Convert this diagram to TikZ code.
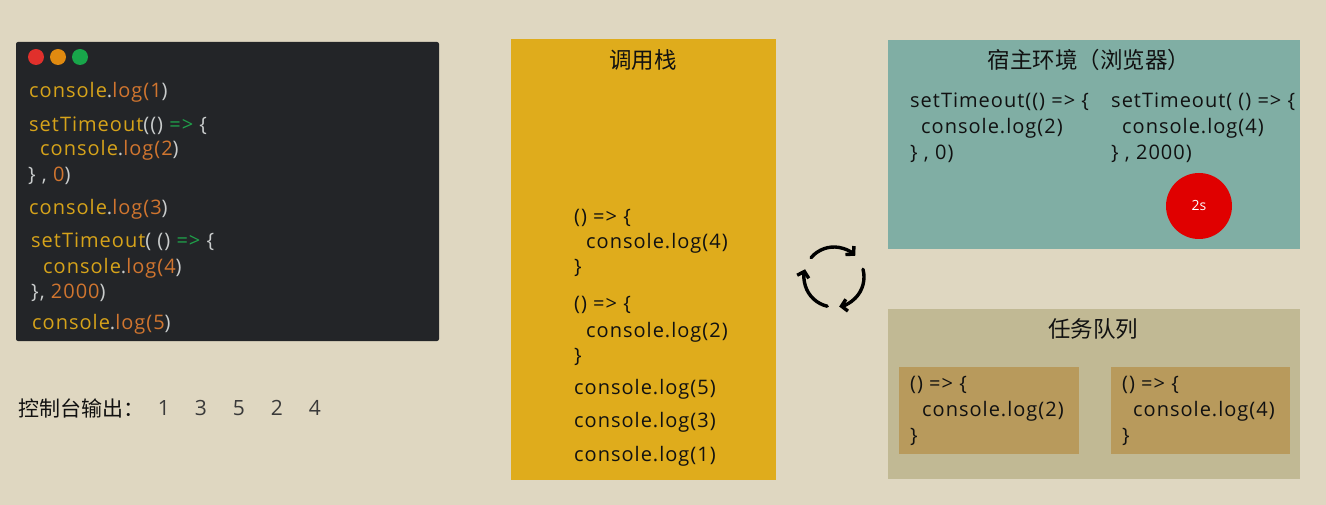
\documentclass[tikz,border=0pt]{standalone}
\usepackage{fontspec}
\setmainfont{Open Sans}
\newfontfamily\codefont[LetterSpace=5]{Open Sans}
\newfontfamily\cjk{Noto Sans CJK SC}
\usepackage{xcolor}
\usepackage{tikz}
\usetikzlibrary{arrows.meta}

\definecolor{bgtan}{HTML}{DFD7C1}
\definecolor{editor}{HTML}{232528}
\definecolor{stackgold}{HTML}{DFAC1C}
\definecolor{hostteal}{HTML}{80AEA4}
\definecolor{queuetan}{HTML}{C1B994}
\definecolor{queueitem}{HTML}{B89A5C}
\definecolor{timerred}{HTML}{E00000}
\definecolor{dotred}{HTML}{E0302C}
\definecolor{dotorange}{HTML}{E08A10}
\definecolor{dotgreen}{HTML}{18A64A}
\definecolor{cyellow}{HTML}{D6A31A}
\definecolor{corange}{HTML}{D0752F}
\definecolor{cwhite}{HTML}{C9CCCC}
\definecolor{cgreen}{HTML}{1FA14A}
\definecolor{ink}{HTML}{111111}
\definecolor{outink}{HTML}{3A3A3A}

\newcommand{\cy}[1]{\textcolor{cyellow}{#1}}
\newcommand{\co}[1]{\textcolor{corange}{#1}}
\newcommand{\cw}[1]{\textcolor{cwhite}{#1}}
\newcommand{\cgr}[1]{\textcolor{cgreen}{#1}}

\begin{document}
\begin{tikzpicture}[x=1pt,y=-1pt,
    code/.style={anchor=west, inner sep=0pt, font=\codefont\fontsize{20}{24}\selectfont, text=ink},
    title/.style={inner sep=0pt, font=\cjk\fontsize{22.5}{26}\selectfont, text=ink},
    cycle/.style={line width=3.4pt, line cap=round, -{Straight Barb[length=5.5pt, width=12pt]}}]
    % Draw background
    \fill[bgtan] (0,0) rectangle (1326,505);
    \useasboundingbox (0,0) rectangle (1326,505);

    % Draw editor window
    \fill[editor, rounded corners=2pt] (16,42) rectangle (439,341);
    \foreach \x/\c in {36/dotred, 58/dotorange, 80/dotgreen} {
        \fill[\c] (\x,57) circle (8);
    }
    \node[code] (src1) at (29,92) {\cy{console}\cw{.}\co{log(1}\cw{)}};
    \node[code] (src2) at (29,126) {\cy{setTimeout}\cw{(()}\ \cgr{=>}\ \cw{\{}};
    \node[code] (src3) at (40,150) {\cy{console}\cw{.}\co{log(2}\cw{)}};
    \node[code] (src4) at (28,176) {\cw{\} ,}\ \co{0}\cw{)}};
    \node[code] (src5) at (29,209) {\cy{console}\cw{.}\co{log(3}\cw{)}};
    \node[code] (src6) at (31,242) {\cy{setTimeout}\cw{( ()}\ \cgr{=>}\ \cw{\{}};
    \node[code] (src7) at (43,268) {\cy{console}\cw{.}\co{log(4}\cw{)}};
    \node[code] (src8) at (31,293) {\cw{\},}\ \co{2000}\cw{)}};
    \node[code] (src9) at (32,324) {\cy{console}\cw{.}\co{log(5}\cw{)}};

    % Console output
    \node[anchor=west, inner sep=0pt, font=\cjk\fontsize{21}{24}\selectfont, text=ink] (out) at (18,408) {控制台输出：};
    \foreach \n/\x in {1/164, 3/201, 5/239, 2/277, 4/315} {
        \node[inner sep=0pt, font=\fontsize{21}{24}\selectfont, text=outink] (out\n) at (\x,408) {\n};
    }

    % Call stack
    \fill[stackgold] (511,39) rectangle (776,480);
    \node[title] (stack) at (643,60) {调用栈};
    \node[code] (st1) at (574,218) {() => \{};
    \node[code] (st2) at (586,243) {console.log(4)};
    \node[code] (st3) at (574,268) {\}};
    \node[code] (st4) at (574,305) {() => \{};
    \node[code] (st5) at (586,332) {console.log(2)};
    \node[code] (st6) at (574,357) {\}};
    \node[code] (st7) at (574,389) {console.log(5)};
    \node[code] (st8) at (574,422) {console.log(3)};
    \node[code] (st9) at (574,456) {console.log(1)};

    % Host environment
    \fill[hostteal] (888,40) rectangle (1300,249);
    \node[title] (host) at (1089,60) {宿主环境（浏览器）};
    \node[code] (ha1) at (910,102) {setTimeout(() => \{};
    \node[code] (ha2) at (921,128) {console.log(2)};
    \node[code] (ha3) at (910,154) {\} , 0)};
    \node[code] (hb1) at (1111,102) {setTimeout( () => \{};
    \node[code] (hb2) at (1122,128) {console.log(4)};
    \node[code] (hb3) at (1111,154) {\} , 2000)};
    \node[circle, fill=timerred, minimum size=66pt, inner sep=0pt, text=white,
          font=\fontsize{14}{16}\selectfont] (timer) at (1199,206) {2s};

    % Event loop
    \coordinate (loop) at (834,277);
    \draw[cycle] (loop) ++(-140:30) arc[start angle=-140, end angle=-45, radius=30];
    \draw[cycle] (loop) ++(-15:30) arc[start angle=-15, end angle=80, radius=30];
    \draw[cycle] (loop) ++(103:30) arc[start angle=103, end angle=195, radius=30];

    % Task queue
    \fill[queuetan] (888,309) rectangle (1300,479);
    \node[title] (queue) at (1093,329) {任务队列};
    \fill[queueitem] (899,367) rectangle (1079,454);
    \fill[queueitem] (1111,367) rectangle (1290,454);
    \node[code] (qa1) at (910,385) {() => \{};
    \node[code] (qa2) at (922,411) {console.log(2)};
    \node[code] (qa3) at (910,437) {\}};
    \node[code] (qb1) at (1122,385) {() => \{};
    \node[code] (qb2) at (1133,411) {console.log(4)};
    \node[code] (qb3) at (1122,437) {\}};
\end{tikzpicture}
\end{document}
